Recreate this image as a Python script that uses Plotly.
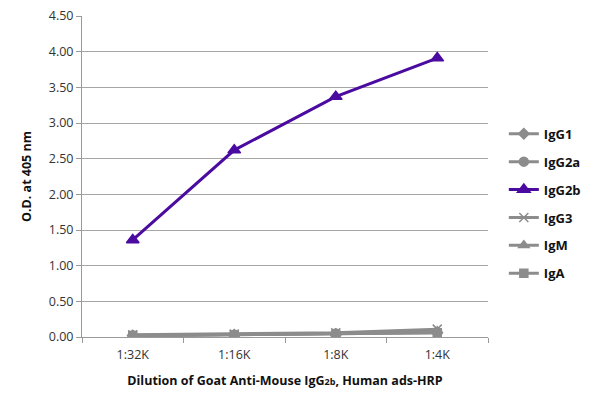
import plotly.graph_objects as go

# diluicoes e leituras O.D.
diluicoes = ["1:32K", "1:16K", "1:8K", "1:4K"]
igg1 = [0.02, 0.03, 0.04, 0.06]
igg2a = [0.02, 0.03, 0.05, 0.07]
igg2b = [1.36, 2.62, 3.37, 3.91]
igg3 = [0.03, 0.04, 0.06, 0.11]
igm = [0.02, 0.03, 0.05, 0.08]
iga = [0.02, 0.03, 0.04, 0.06]

cinza = "#8c8c8c"
roxo = "#4b0aa0"

series = [
    ("IgG1", igg1, cinza, "diamond", 8),
    ("IgG2a", igg2a, cinza, "circle", 9),
    ("IgG2b", igg2b, roxo, "triangle-up", 11),
    ("IgG3", igg3, cinza, "x-thin-open", 9),
    ("IgM", igm, cinza, "triangle-up", 9),
    ("IgA", iga, cinza, "square", 8),
]

fig = go.Figure()
for nome, vals, cor, simb, tam in series:
    fig.add_trace(go.Scatter(
        x=diluicoes, y=vals, name=nome, mode="lines+markers", legendgroup=nome,
        line=dict(color=cor, width=3),
        marker=dict(symbol=simb, size=tam, color=cor, line=dict(color=cor, width=1.5)),
    ))

# margens compensam o margin de 8px do body da pagina
fig.update_layout(
    width=600, height=408,
    margin=dict(l=74, r=120, t=8, b=79),
    plot_bgcolor="white", paper_bgcolor="white",
    font=dict(family="Open Sans", size=12, color="#222"),
    showlegend=True,
    legend=dict(x=1.039, y=0.415, yanchor="middle",
                font=dict(size=13, color="#111", weight="bold"),
                tracegroupgap=8, itemwidth=30, bgcolor="rgba(0,0,0,0)"),
)
fig.update_xaxes(
    title=dict(text="<b>Dilution of Goat Anti-Mouse IgG<span style='font-size:9px'>2b</span>, Human ads-HRP</b>",
               font=dict(size=12.5, color="#111"), standoff=14),
    range=[-0.5, 3.5], automargin=False,
    showline=True, linecolor="#999", linewidth=1,
    ticks="outside", tickson="boundaries", ticklen=5, tickcolor="#999",
    ticklabelstandoff=6,
    showgrid=False, tickfont=dict(size=12.5, color="#333"),
)
fig.update_yaxes(
    title=dict(text="<b>O.D. at 405 nm</b>", font=dict(size=12.5, color="#111"), standoff=14),
    range=[0, 4.5], dtick=0.5, tickformat=".2f", automargin=False,
    ticklabeloverflow="allow",
    showline=True, linecolor="#999", linewidth=1,
    ticks="outside", ticklen=5, tickcolor="#999",
    showgrid=True, gridcolor="#a6a6a6", gridwidth=1, zeroline=False,
    tickfont=dict(size=12.5, color="#333"),
)

fig.write_html("out.html")
